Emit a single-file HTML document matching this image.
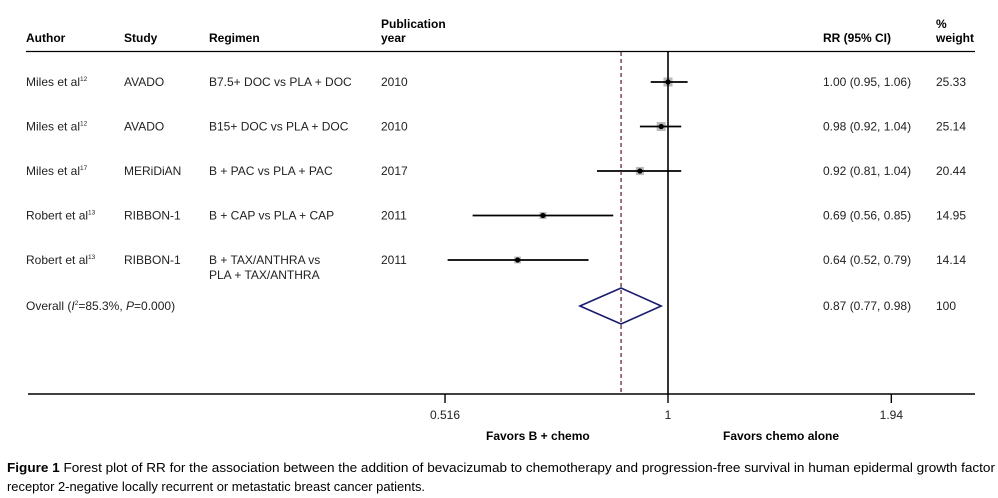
<!DOCTYPE html>
<html><head><meta charset="utf-8"><style>
html,body{margin:0;padding:0;background:#fff;}
svg{display:block;font-family:"Liberation Sans",Arial,sans-serif;}
</style></head><body>
<svg id="chart" width="998" height="498" viewBox="0 0 998 498">
<g font-size="12" font-weight="bold" fill="#000">
<text x="26" y="42">Author</text>
<text x="124" y="42">Study</text>
<text x="209" y="42">Regimen</text>
<text x="381" y="28">Publication</text>
<text x="381" y="42">year</text>
<text x="823" y="42">RR (95% CI)</text>
<text x="936" y="28">%</text>
<text x="936" y="42">weight</text>
</g>
<line x1="26" y1="51.5" x2="975" y2="51.5" stroke="#000" stroke-width="1.3"/>
<g id="rows" font-size="12" fill="#222"></g>
<g id="marks"></g>
<g id="axis"></g>
<text x="486" y="440" font-size="12" font-weight="bold">Favors B + chemo</text>
<text x="723" y="440" font-size="12" font-weight="bold">Favors chemo alone</text>
<text x="7" y="472" font-size="12.5" textLength="988" lengthAdjust="spacingAndGlyphs"><tspan font-weight="bold">Figure 1</tspan> Forest plot of RR for the association between the addition of bevacizumab to chemotherapy and progression-free survival in human epidermal growth factor</text>
<text x="7" y="491" font-size="12.5" textLength="418" lengthAdjust="spacingAndGlyphs">receptor 2-negative locally recurrent or metastatic breast cancer patients.</text>
</svg>
<script>
const authors=["Miles et al","Miles et al","Miles et al","Robert et al","Robert et al"];
const refs=["12","12","17","13","13"];
const studies=["AVADO","AVADO","MERiDiAN","RIBBON-1","RIBBON-1"];
const regimens=[["B7.5+ DOC vs PLA + DOC"],["B15+ DOC vs PLA + DOC"],["B + PAC vs PLA + PAC"],["B + CAP vs PLA + CAP"],["B + TAX/ANTHRA vs","PLA + TAX/ANTHRA"]];
const years=["2010","2010","2017","2011","2011"];
const rr=[1.00,0.98,0.92,0.69,0.64];
const lo=[0.95,0.92,0.81,0.56,0.52];
const hi=[1.06,1.04,1.04,0.85,0.79];
const weights=[25.33,25.14,20.44,14.95,14.14];
const overall=[0.87,0.77,0.98];
const ticks=[0.516,1,1.94];
const NS="http://www.w3.org/2000/svg";
const x=v=>668+Math.log(v)*337;
const rowY=i=>82+i*44.5;
function el(tag,attrs,parent,txt){const e=document.createElementNS(NS,tag);for(const k in attrs)e.setAttribute(k,attrs[k]);if(txt!==undefined)e.textContent=txt;parent.appendChild(e);return e;}
const rows=document.getElementById('rows'),marks=document.getElementById('marks'),axis=document.getElementById('axis');
const f2=v=>v.toFixed(2);
rr.forEach((v,i)=>{
 const y=rowY(i);
 const a=el('text',{x:26,y:y+4},rows);
 
 
 a.appendChild(document.createTextNode(authors[i]));
 el('tspan',{dy:-5,'font-size':6.5},a,refs[i]);
 const s=el('text',{x:124,y:y+4},rows,studies[i]);
 
 
 regimens[i].forEach((r,j)=>{const t=el('text',{x:209,y:y+4+j*15},rows,r);
 
 });
 const yr=el('text',{x:381,y:y+4},rows,years[i]);
 
 
 const c=el('text',{x:823,y:y+4},rows,`${f2(v)} (${f2(lo[i])}, ${f2(hi[i])})`);
 
 
 const w=el('text',{x:936,y:y+4},rows,f2(weights[i]));
 
 
 const sz=Math.sqrt(weights[i])*1.8;
 const sq=el('rect',{x:x(v)-sz/2,y:y-sz/2,width:sz,height:sz,fill:'#bbb'},marks);
 
 
 const ln=el('line',{x1:x(lo[i]),x2:x(hi[i]),y1:y,y2:y,stroke:'#000','stroke-width':1.8},marks);
 
 
 const d=el('circle',{cx:x(v),cy:y,r:2.6,fill:'#000'},marks);
 
 
});
const oy=306;
const ot=el('text',{x:26,y:oy+4},rows);


ot.innerHTML='Overall (<tspan font-style="italic">I</tspan><tspan dy="-5" font-size="6.5">2</tspan><tspan dy="5">=85.3%, </tspan><tspan font-style="italic">P</tspan>=0.000)';
const oc=el('text',{x:823,y:oy+4},rows,`${f2(overall[0])} (${f2(overall[1])}, ${f2(overall[2])})`);


const ow=el('text',{x:936,y:oy+4},rows,'100');


const dash=el('line',{x1:x(overall[0]),x2:x(overall[0]),y1:52,y2:394,stroke:'#6b2a3a','stroke-width':1.3,'stroke-dasharray':'4,3'},marks);


const dia=el('polygon',{points:`${x(overall[1])},${oy} ${x(overall[0])},${oy-18} ${x(overall[2])},${oy} ${x(overall[0])},${oy+18}`,fill:'none',stroke:'#1a1a6e','stroke-width':1.6},marks);


const nl=el('line',{x1:x(1),x2:x(1),y1:51,y2:394,stroke:'#000','stroke-width':1.6},axis);


const al=el('line',{x1:28,x2:975,y1:394,y2:394,stroke:'#000','stroke-width':1.6},axis);


ticks.forEach(t=>{
 const tk=el('line',{x1:x(t),x2:x(t),y1:394,y2:403,stroke:'#000','stroke-width':1.4},axis);
 
 
 const tl=el('text',{x:x(t),y:419,'font-size':12,'text-anchor':'middle',fill:'#222'},axis,String(t));
 
 
});
</script>
</body></html>
